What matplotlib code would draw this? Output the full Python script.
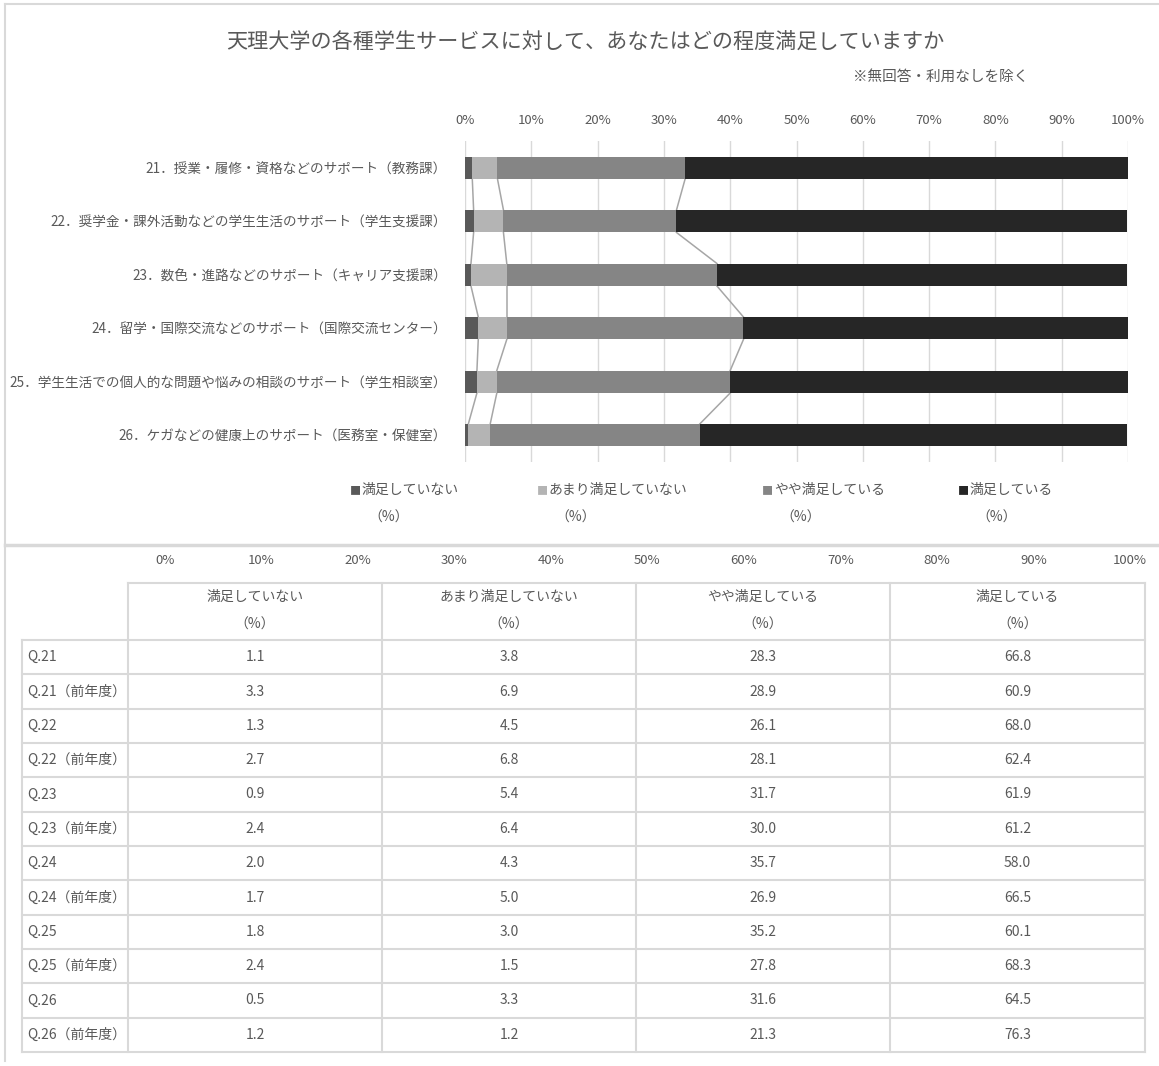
import matplotlib
matplotlib.use("Agg")
import matplotlib.pyplot as plt

plt.rcParams['font.family'] = ['Noto Sans CJK JP', 'DejaVu Sans']

# question labels (bar chart)
questions = [
    '21．授業・履修・資格などのサポート（教務課）',
    '22．奨学金・課外活動などの学生生活のサポート（学生支援課）',
    '23．数色・進路などのサポート（キャリア支援課）',
    '24．留学・国際交流などのサポート（国際交流センター）',
    '25．学生生活での個人的な問題や悩みの相談のサポート（学生相談室）',
    '26．ケガなどの健康上のサポート（医務室・保健室）',
]
series_names = ['満足していない', 'あまり満足していない', 'やや満足している', '満足している']
series_colors = ['#595959', '#b4b4b4', '#858585', '#262626']

# this year
not_sat = [1.1, 1.3, 0.9, 2.0, 1.8, 0.5]
little_sat = [3.8, 4.5, 5.4, 4.3, 3.0, 3.3]
some_sat = [28.3, 26.1, 31.7, 35.7, 35.2, 31.6]
sat = [66.8, 68.0, 61.9, 58.0, 60.1, 64.5]

# previous year
not_sat_prev = [3.3, 2.7, 2.4, 1.7, 2.4, 1.2]
little_sat_prev = [6.9, 6.8, 6.4, 5.0, 1.5, 1.2]
some_sat_prev = [28.9, 28.1, 30.0, 26.9, 27.8, 21.3]
sat_prev = [60.9, 62.4, 61.2, 66.5, 68.3, 76.3]

row_ids = ['21', '22', '23', '24', '25', '26']
pct_ticks = [0, 10, 20, 30, 40, 50, 60, 70, 80, 90, 100]

W, H = 1159, 1066
TXT = '#595959'
GRID = '#d9d9d9'

fig = plt.figure(figsize=(W / 100, H / 100), dpi=100)


def px_axes(x0, y0, x1, y1):
    return fig.add_axes([x0 / W, 1 - y1 / H, (x1 - x0) / W, (y1 - y0) / H])


# overlay in pixel coords for frame and table
ov = fig.add_axes([0, 0, 1, 1])
ov.set_xlim(0, W)
ov.set_ylim(H, 0)
ov.axis('off')
ov.plot([5, W], [4, 4], color=GRID, lw=1.5)
ov.plot([5, 5], [4, H - 5], color=GRID, lw=1.5)
ov.plot([5, W], [545, 545], color=GRID, lw=2.5)

ov.text(585, 43, '天理大学の各種学生サービスに対して、あなたはどの程度満足していますか',
        ha='center', va='center', fontsize=15.2, color=TXT)
ov.text(1028, 77, '※無回答・利用なしを除く', ha='right', va='center', fontsize=10.5, color=TXT)

# ---- stacked bar chart ----
ax = px_axes(465, 141, 1128, 462)
series = [not_sat, little_sat, some_sat, sat]
ypos = list(range(len(questions)))
h = 0.42
left = [0.0] * len(questions)
cums = []
for vals, name, col in zip(series, series_names, series_colors):
    ax.barh(ypos, vals, left=left, height=h, color=col, label=name, zorder=3)
    left = [l + v for l, v in zip(left, vals)]
    cums.append(left)

# series lines between bars
for cum in cums[:3]:
    for i in range(len(questions) - 1):
        ax.plot([cum[i], cum[i + 1]], [i + h / 2, i + 1 - h / 2],
                color='#a6a6a6', lw=1.1, zorder=2)

ax.set_xlim(0, 100)
ax.set_ylim(len(questions) - 0.5, -0.5)
ax.set_yticks(ypos)
ax.set_yticklabels(questions, fontsize=9.8, color=TXT)
ax.set_xticks(pct_ticks)
ax.set_xticklabels([f'{t}%' for t in pct_ticks], fontsize=9.5, color=TXT)
ax.xaxis.tick_top()
ax.tick_params(axis='both', length=0)
ax.tick_params(axis='x', pad=10)
ax.tick_params(axis='y', pad=13)
ax.grid(axis='x', color=GRID, lw=1, zorder=0)
for s in ax.spines.values():
    s.set_visible(False)

# legend
leg_x = [350, 537, 762, 958]
for x, name, col in zip(leg_x, series_names, series_colors):
    ov.text(x, 491, '■', ha='left', va='center', fontsize=8, color=col)
    ov.text(x + 12, 490, name, ha='left', va='center', fontsize=10, color=TXT)
    ov.text(x + 18, 518, '（%）', ha='left', va='center', fontsize=10, color=TXT)

# ---- percent scale above table ----
ax2 = px_axes(165, 568, 1130, 569)
ax2.set_xlim(0, 100)
ax2.set_xticks(pct_ticks)
ax2.set_xticklabels([f'{t}%' for t in pct_ticks], fontsize=9.5, color=TXT)
ax2.xaxis.tick_top()
ax2.tick_params(length=0, pad=1)
ax2.set_yticks([])
for s in ax2.spines.values():
    s.set_visible(False)
ax2.patch.set_alpha(0)

# ---- table ----
cols = [22, 128, 382, 636, 890, 1145]
head_top, head_bot, tab_bot = 583, 640, 1052
n_rows = 12
rh = (tab_bot - head_bot) / n_rows

row_labels = []
table_rows = []
for i, q in enumerate(row_ids):
    row_labels.append(f'Q.{q}')
    table_rows.append([not_sat[i], little_sat[i], some_sat[i], sat[i]])
    row_labels.append(f'Q.{q}（前年度）')
    table_rows.append([not_sat_prev[i], little_sat_prev[i], some_sat_prev[i], sat_prev[i]])

lc = dict(color=GRID, lw=1.5)
ov.plot([cols[1], cols[-1]], [head_top, head_top], **lc)
for x in cols[1:]:
    ov.plot([x, x], [head_top, tab_bot], **lc)
ov.plot([cols[0], cols[0]], [head_bot, tab_bot], **lc)
for r in range(n_rows + 1):
    y = head_bot + r * rh
    ov.plot([cols[0], cols[-1]], [y, y], **lc)

for c, name in enumerate(series_names):
    cx = (cols[c + 1] + cols[c + 2]) / 2
    ov.text(cx, 597, name, ha='center', va='center', fontsize=10, color=TXT)
    ov.text(cx, 625, '（%）', ha='center', va='center', fontsize=10, color=TXT)

for r, (lab, vals) in enumerate(zip(row_labels, table_rows)):
    cy = head_bot + (r + 0.5) * rh
    ov.text(cols[0] + 5, cy, lab, ha='left', va='center', fontsize=10, color=TXT)
    for c, v in enumerate(vals):
        cx = (cols[c + 1] + cols[c + 2]) / 2
        ov.text(cx, cy, f'{v:.1f}', ha='center', va='center', fontsize=10, color=TXT)

fig.savefig('out.png', dpi=100)
